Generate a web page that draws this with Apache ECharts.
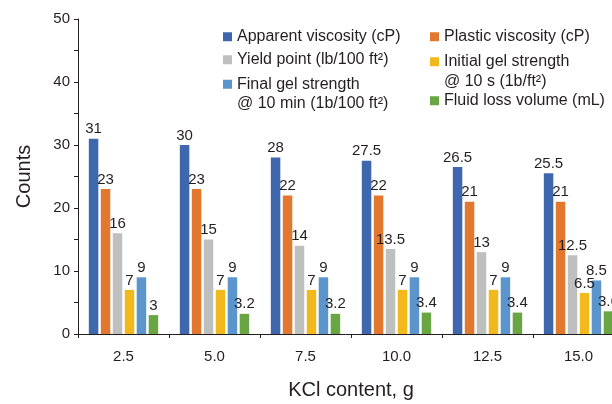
<!DOCTYPE html>
<html>
<head>
<meta charset="utf-8">
<script src="https://cdn.jsdelivr.net/npm/echarts@6/dist/echarts.min.js"></script>
<style>html,body{margin:0;padding:0;background:#fff}#c{width:612px;height:404px}</style>
</head>
<body>
<div id="c"></div>
<script>
const categories = ['2.5', '5.0', '7.5', '10.0', '12.5', '15.0'];
const seriesNames = [
  'Apparent viscosity (cP)',
  'Plastic viscosity (cP)',
  'Yield point (lb/100 ft²)',
  'Initial gel strength @ 10 s (1b/ft²)',
  'Final gel strength @ 10 min (1b/100 ft²)',
  'Fluid loss volume (mL)'
];
const apparentViscosity = [31, 30, 28, 27.5, 26.5, 25.5];
const plasticViscosity = [23, 23, 22, 22, 21, 21];
const yieldPoint = [16, 15, 14, 13.5, 13, 12.5];
const initialGel = [7, 7, 7, 7, 7, 6.5];
const finalGel = [9, 9, 9, 9, 9, 8.5];
const fluidLoss = [3, 3.2, 3.2, 3.4, 3.4, 3.6];
const yTicks = [0, 10, 20, 30, 40, 50];

const seriesData = [apparentViscosity, plasticViscosity, yieldPoint, initialGel, finalGel, fluidLoss];
const colors = ['#3F67AE', '#E2772F', '#BEBFBF', '#F1B91B', '#5B95CB', '#6AA544'];
const legendLabels = [
  'Apparent viscosity (cP)',
  'Plastic viscosity (cP)',
  'Yield point (lb/100 ft²)',
  ' \nInitial gel strength\n@ 10 s (1b/ft²)',
  ' \nFinal gel strength\n@ 10 min (1b/100 ft²)',
  'Fluid loss volume (mL)'
];
const legendPos = [[223, 27], [430, 27], [223, 50], [430, 32.5], [223, 55], [430, 91]];
const txt = '#231F20';
const font = 'Liberation Sans, Arial, sans-serif';

const chart = echarts.init(document.getElementById('c'), null, {renderer: 'canvas'});
const option = {
  animation: false,
  color: colors,
  textStyle: {fontFamily: font},
  legend: seriesNames.map((n, i) => ({
    data: [n],
    left: legendPos[i][0],
    top: legendPos[i][1],
    padding: 0,
    icon: 'rect',
    itemWidth: 9,
    itemHeight: 9,
    selectedMode: false,
    formatter: () => legendLabels[i],
    textStyle: {fontSize: 16, color: txt, fontFamily: font, lineHeight: 19.5}
  })),
  grid: {left: 78, top: 19, width: 546, height: 315, containLabel: false, outerBoundsMode: 'none'},
  xAxis: {
    type: 'category',
    data: categories,
    name: 'KCl content, g',
    nameLocation: 'middle',
    nameGap: 46,
    nameTextStyle: {fontSize: 20, color: txt, fontFamily: font},
    axisLine: {lineStyle: {color: txt, width: 1}},
    axisTick: {show: true, length: 4, lineStyle: {color: txt}},
    axisLabel: {fontSize: 15, color: txt, margin: 15, fontFamily: font}
  },
  yAxis: {
    type: 'value',
    min: 0,
    max: 50,
    interval: 5,
    name: 'Counts',
    nameLocation: 'middle',
    nameGap: 44,
    nameTextStyle: {fontSize: 20, color: txt, fontFamily: font},
    axisLine: {show: true, lineStyle: {color: txt, width: 1}},
    axisTick: {show: true, length: 4, lineStyle: {color: txt}},
    splitLine: {show: false},
    axisLabel: {
      fontSize: 15, color: txt, margin: 8, fontFamily: font,
      formatter: v => (yTicks.indexOf(v) >= 0 ? String(v) : '')
    }
  },
  series: seriesNames.map((n, i) => ({
    name: n,
    type: 'bar',
    data: seriesData[i],
    barWidth: 9.5,
    barGap: '26%',
    itemStyle: {color: colors[i]},
    label: {
      show: true,
      position: 'top',
      distance: 2,
      fontSize: 15,
      color: txt,
      fontFamily: font
    }
  }))
};
chart.setOption(option);
</script>
</body>
</html>
